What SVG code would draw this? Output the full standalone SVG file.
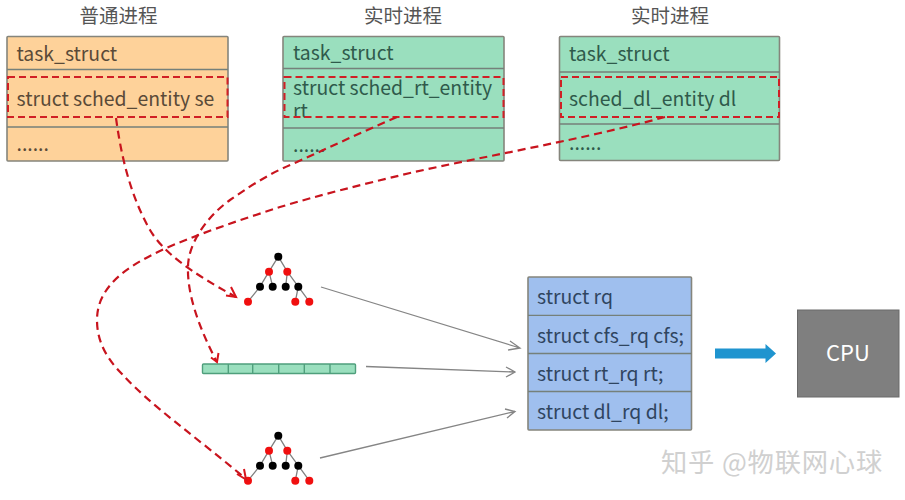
<svg xmlns="http://www.w3.org/2000/svg" width="905" height="500" viewBox="0 0 905 500">
<style>
text{font-family:"Noto Sans CJK SC","Noto Sans",sans-serif;font-size:19.4px;fill:#3f4a4a}
.h{fill:#555;text-anchor:middle;font-size:19.5px}
.box{stroke:#85857c;stroke-width:1.6}
.sep{stroke:#75807a;stroke-width:1.3;fill:none}
.o{fill:#fed29a}.g{fill:#9adfbe}.b{fill:#9fbfee}
.gt{fill:#2f5a4b}.ot{fill:#5a4a38}.bt{fill:#2f4560}
.dr{fill:none;stroke:#d01f25;stroke-width:2;stroke-dasharray:7 4}
.dc{fill:none;stroke:#c8141e;stroke-width:2.2;stroke-dasharray:8 5}
.ah{fill:none;stroke:#d8141c;stroke-width:2}
.gl{stroke:#858585;stroke-width:1.3;fill:none}
.e{stroke:#808080;stroke-width:1.3}
.k{fill:#000}.r{fill:#f00f0f}
.bar{fill:#9adfbe;stroke:#4f9f7c;stroke-width:1.4}
</style>
<defs>
<g id="tree">
<path class="e" d="M278.3 256.7L269 271.7L260 286.7L248 301.7M269 271.7L272.7 286.7M278.3 256.7L287.3 271.7L285.7 286.7M287.3 271.7L298.3 286.7L295.300 301.7M298.3 286.7L309.3 301.7" fill="none"/>
<circle class="k" cx="278.3" cy="256.7" r="4"/>
<circle class="r" cx="269" cy="271.7" r="4"/><circle class="r" cx="287.3" cy="271.7" r="4"/>
<circle class="k" cx="260" cy="286.7" r="4"/><circle class="k" cx="272.7" cy="286.7" r="4"/><circle class="k" cx="285.7" cy="286.7" r="4"/><circle class="k" cx="298.3" cy="286.7" r="4"/>
<circle class="r" cx="248" cy="301.7" r="4"/><circle class="r" cx="295.300" cy="301.7" r="4"/><circle class="r" cx="309.3" cy="301.7" r="4"/>
</g>
</defs>
<g id="node-normal">
<text class="h" x="118.500" y="23">普通进程</text>
<rect class="box o" x="7" y="36.500" width="221" height="124.500" rx="1"/>
<path class="sep" d="M7 69.500H228M7 127H228"/>
<text class="ot" x="16.500" y="61">task_struct</text>
<text class="ot" x="16.500" y="106">struct sched_entity se</text>
<text class="ot" x="16.500" y="151">......</text>
<rect class="dr" x="8" y="77" width="219.500" height="40"/>
</g>
<g id="node-rt">
<text class="h" x="403" y="23">实时进程</text>
<rect class="box g" x="283" y="36.500" width="221" height="124.500" rx="1"/>
<path class="sep" d="M283 68.500H504M283 128H504"/>
<text class="gt" x="293" y="60">task_struct</text>
<text class="gt" x="293" y="95">struct sched_rt_entity <tspan x="293" y="118">rt</tspan></text>
<text class="gt" x="293" y="152">......</text>
<rect class="dr" x="284.500" y="77" width="219" height="40"/>
</g>
<g id="node-dl">
<text class="h" x="670" y="23">实时进程</text>
<rect class="box g" x="559.500" y="36.500" width="220" height="124" rx="1"/>
<path class="sep" d="M559.500 72H779.500M559.500 124H779.500"/>
<text class="gt" x="569" y="61">task_struct</text>
<text class="gt" x="569" y="106">sched_dl_entity dl</text>
<text class="gt" x="569" y="150">......</text>
<rect class="dr" x="561" y="77" width="218" height="40"/>
</g>
<g id="node-tree-cfs"><use href="#tree"/></g>
<g id="node-array">
<rect class="bar" x="202.500" y="364" width="153" height="9.500" rx="1"/>
<path class="bar" d="M228.300 364V373.500M252.700 364V373.500M278.700 364V373.500M304.300 364V373.500M330 364V373.500"/>
</g>
<g id="node-tree-dl"><use href="#tree" y="179"/></g>
<g id="node-rq">
<rect class="box b" x="528" y="277" width="163.500" height="153" rx="1"/>
<path class="sep" d="M528 315.300H691.500M528 353.500H691.500M528 391.500H691.500"/>
<text class="bt" x="537" y="304">struct rq</text>
<text class="bt" x="537" y="343">struct cfs_rq cfs;</text>
<text class="bt" x="537" y="381">struct rt_rq rt;</text>
<text class="bt" x="537" y="419">struct dl_rq dl;</text>
</g>
<g id="node-cpu">
<rect x="797.500" y="310" width="101.500" height="87" fill="#7f7f7f" stroke="#6a6a6a" stroke-width="1"/>
<text x="848" y="361" text-anchor="middle" style="fill:#fff;font-size:22px">CPU</text>
</g>
<g id="connectors">
<path class="dc" d="M116 118C121 155 130 195 150 230C163 252 190 272 236 297"/>
<path class="ah" d="M231 287L236 297L226 295.500"/>
<path class="dc" d="M397 117C360 133 330 147 297 162C265 175 245 190 230 200C205 218 188 245 188 267C187 295 200 330 217 362"/>
<path class="ah" d="M211 357.500L217 362L218.500 353"/>
<path class="dc" d="M665 117C580 140 490 155 410 173C360 185 320 195 280 207C240 220 195 235 162 250C130 265 97 285 97 320C97 345 110 362 123 375C150 405 200 440 246 479"/>
<path class="ah" d="M237 474L246 479.500L244 469"/>
<path class="gl" d="M321 287L520 348M510 341L520 348L508 350"/>
<path class="gl" d="M366 366.500L515 372M506 367L515 372L506 377"/>
<path class="gl" d="M320 458L515 411.500M505 409L515 411.500L507 418"/>
<path d="M715 348.500H765.500V344L776 353.500L765.500 363V358.500H715Z" fill="#1f94cf"/>
</g>
<text x="661" y="472" style="font-size:26.300px;fill:#d0d0d0;letter-spacing:.8px">知乎 @物联网心球</text>
</svg>
